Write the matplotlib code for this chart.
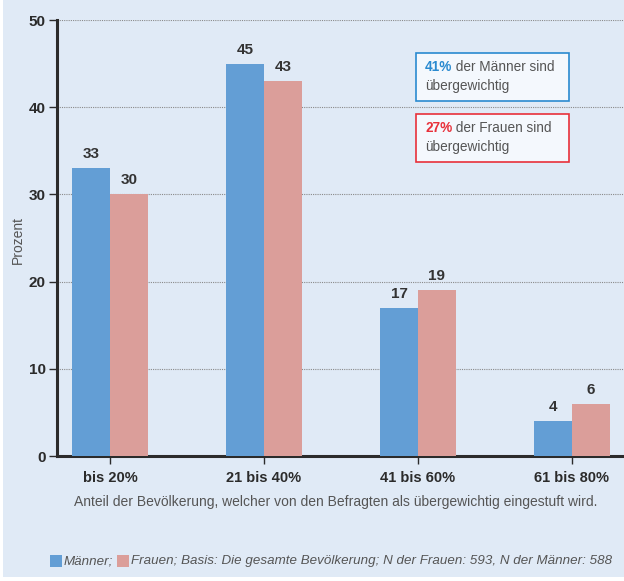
import numpy as np
import matplotlib.pyplot as plt
from matplotlib.patches import Rectangle

# Daten
kategorien = ["bis 20%", "21 bis 40%", "41 bis 60%", "61 bis 80%"]
maenner = [33, 45, 17, 4]
frauen = [30, 43, 19, 6]

blau = "#639ed5"
rosa = "#db9e9a"
hintergrund = "#e0eaf6"
textgrau = "#555555"
dunkel = "#2b2b2b"

plt.rcParams['font.family'] = ['Liberation Sans', 'DejaVu Sans']

fig = plt.figure(figsize=(6.24, 5.81), dpi=100, facecolor="white")
fig.patches.append(Rectangle((3 / 624, 4 / 581), 1, 1, transform=fig.transFigure,
                             facecolor=hintergrund, edgecolor="none", zorder=-10))

ax = fig.add_axes([57 / 624, 125 / 581, 1 - 57 / 624, (456 - 20) / 581])
ax.set_facecolor(hintergrund)

x = np.arange(len(kategorien))
breite = 0.247
b1 = ax.bar(x - breite / 2, maenner, breite, color=blau, zorder=3)
b2 = ax.bar(x + breite / 2, frauen, breite, color=rosa, zorder=3)

for bars, werte in [(b1, maenner), (b2, frauen)]:
    for b, v in zip(bars, werte):
        ax.annotate(str(v), (b.get_x() + b.get_width() / 2, v), xytext=(0, 5),
                    textcoords="offset points", ha="center", va="bottom",
                    fontsize=11, fontweight="bold", color="#333333")

ax.set_xlim(-0.344, 3.338)
ax.set_ylim(0, 50)
ax.set_yticks([0, 10, 20, 30, 40, 50])
ax.set_xticks(x)
ax.set_xticklabels(kategorien, fontsize=10.5, fontweight="bold", color=dunkel)
for lab in ax.get_yticklabels():
    lab.set_fontsize(11)
    lab.set_fontweight("bold")
    lab.set_color(dunkel)

ax.yaxis.grid(True, linestyle=(0, (1, 1)), color="#8a8a8a", linewidth=0.8, zorder=0)
ax.set_axisbelow(True)
for s in ["top", "right"]:
    ax.spines[s].set_visible(False)
ax.spines["left"].set_linewidth(2.2)
ax.spines["bottom"].set_linewidth(2.2)
ax.spines["left"].set_color(dunkel)
ax.spines["bottom"].set_color(dunkel)
ax.tick_params(axis="y", length=6, width=1, color=dunkel, pad=2)
ax.tick_params(axis="x", length=6, width=1, color=dunkel, pad=5)

fig.text(18 / 624, 1 - 240 / 581, "Prozent", rotation=90, ha="center", va="center",
         fontsize=10, color=textgrau)
fig.text(336 / 624, 1 - 502 / 581,
         "Anteil der Bevölkerung, welcher von den Befragten als übergewichtig eingestuft wird.",
         ha="center", va="center", fontsize=10, color=textgrau)

# Info-Boxen
for y0, farbe, zahl, rest in [(53, "#2a8ad0", "41%", " der Männer sind"),
                              (114, "#e8303a", "27%", " der Frauen sind")]:
    fig.patches.append(Rectangle((416 / 624, 1 - (y0 + 48) / 581), 153 / 624, 48 / 581,
                                 transform=fig.transFigure, facecolor="#f4f8fd",
                                 edgecolor=farbe, linewidth=1.2, zorder=5))
    t = fig.text(425 / 624, 1 - (y0 + 14) / 581, zahl, color=farbe, fontweight="bold",
                 fontsize=9.8, va="center", ha="left", zorder=6)
    fig.canvas.draw()
    bb = t.get_window_extent()
    fig.text(bb.x1 / 624, 1 - (y0 + 14) / 581, rest, color=textgrau, fontsize=9.8,
             va="center", ha="left", zorder=6)
    fig.text(425 / 624, 1 - (y0 + 33) / 581, "übergewichtig", color=textgrau,
             fontsize=9.8, va="center", ha="left", zorder=6)

# Legende unten
fig.patches.append(Rectangle((50 / 624, 1 - 567 / 581), 12 / 624, 12 / 581,
                             transform=fig.transFigure, facecolor=blau, edgecolor="none"))
t1 = fig.text(64 / 624, 1 - 561 / 581, "Männer;", fontsize=9.6, style="italic",
              color=textgrau, va="center", ha="left")
fig.canvas.draw()
xx = t1.get_window_extent().x1 + 4
fig.patches.append(Rectangle((xx / 624, 1 - 567 / 581), 12 / 624, 12 / 581,
                             transform=fig.transFigure, facecolor=rosa, edgecolor="none"))
fig.text((xx + 14) / 624, 1 - 561 / 581,
         "Frauen; Basis: Die gesamte Bevölkerung; N der Frauen: 593, N der Männer: 588",
         fontsize=9.6, style="italic", color=textgrau, va="center", ha="left")

fig.savefig("out.png", dpi=100, facecolor=fig.get_facecolor())
